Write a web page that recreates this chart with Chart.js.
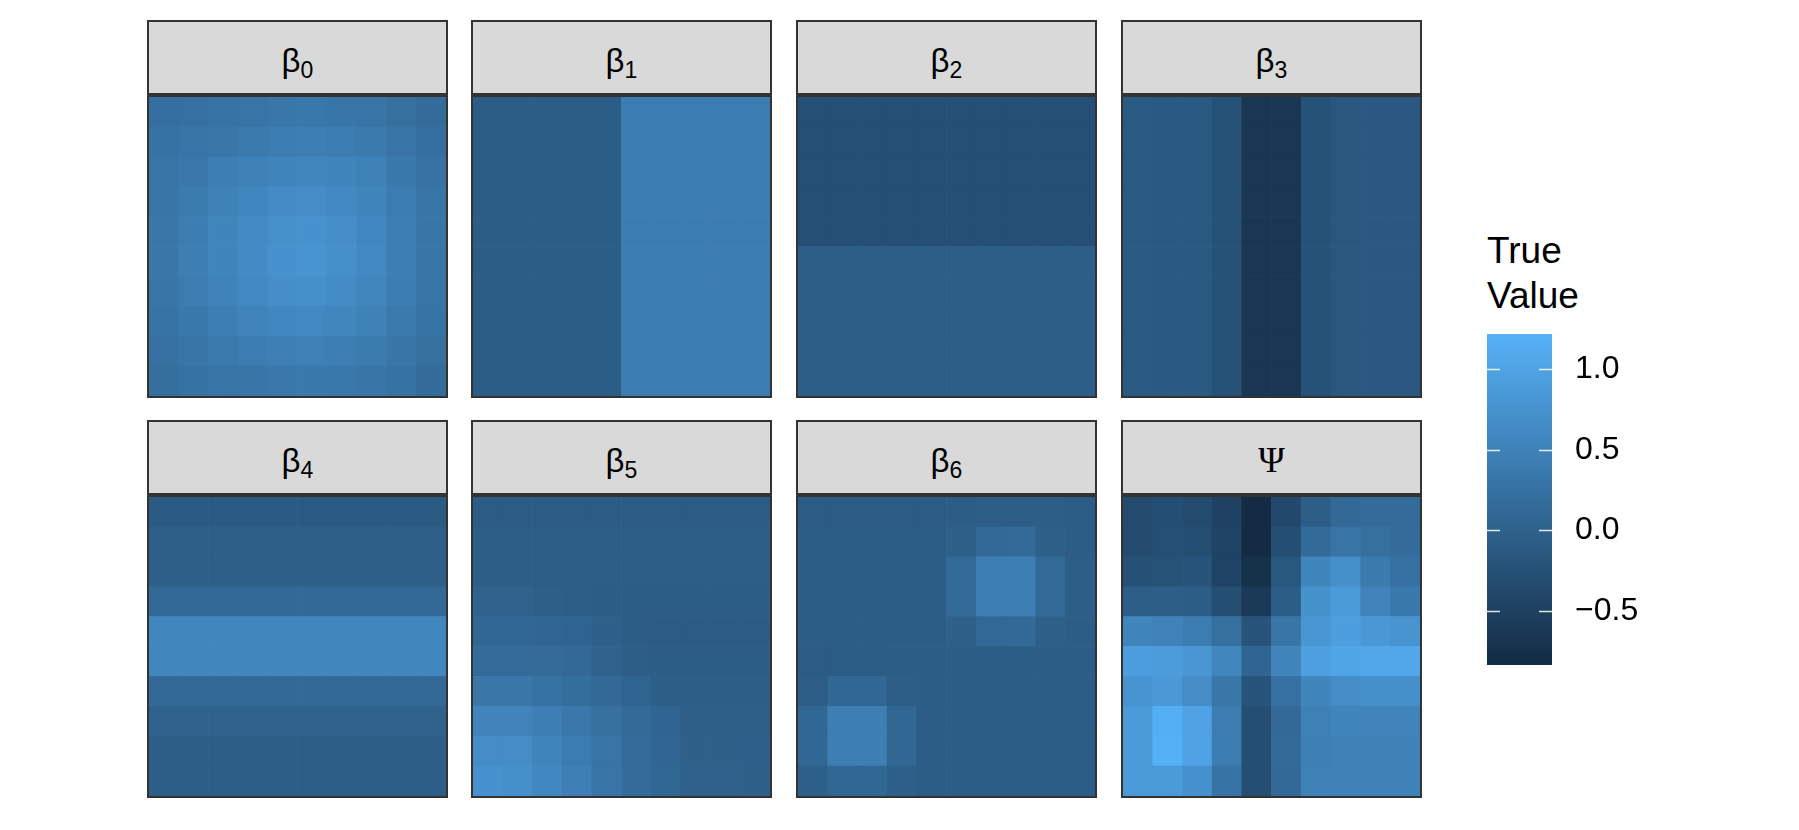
<!DOCTYPE html>
<html>
<head>
<meta charset="utf-8">
<script src="https://cdn.jsdelivr.net/npm/chart.js@4.4.1/dist/chart.umd.min.js"></script>
<style>
  html, body { margin: 0; padding: 0; background: #fff; }
  body { width: 1799px; height: 830px; position: relative; overflow: hidden;
         font-family: "Liberation Sans", Arial, sans-serif; color: #000; }
  .strip { position: absolute; box-sizing: border-box; width: 301px; height: 75px;
           background: #d9d9d9; border: 2px solid #333; text-align: center;
           font-size: 33px; line-height: 71px; }
  .strip .lab { display: inline-block; line-height: 33px; vertical-align: middle; }
  .strip sub { font-size: 23px; vertical-align: -6px; line-height: 0; }
  .strip.serif { font-family: "Liberation Serif", "DejaVu Serif", serif; font-size: 36px; }
  .panel { position: absolute; box-sizing: border-box; width: 301px; height: 303px;
           border: 2px solid #333; }
  .panel canvas { display: block; }
  #legendTitle { position: absolute; left: 1487px; top: 228px; font-size: 37px; line-height: 45px; }
  #barWrap { position: absolute; left: 1487px; top: 334px; }
</style>
</head>
<body>
<div id="legendTitle">True<br>Value</div>
<div id="barWrap"><canvas id="colorbar" width="170" height="331"></canvas></div>
<script>
// grid columns and colour scale limits
const cols = [1, 2, 3, 4, 5, 6, 7, 8, 9, 10];
const scaleMin = -0.835;
const scaleMax = 1.219;
const legendTicks = [-0.5, 0, 0.5, 1.0];

// each matrix: rows listed top to bottom, columns left to right
const beta0 = [
  [0.21, 0.23, 0.27, 0.30, 0.33, 0.34, 0.32, 0.29, 0.22, 0.16],
  [0.25, 0.29, 0.33, 0.37, 0.42, 0.44, 0.42, 0.37, 0.29, 0.21],
  [0.29, 0.35, 0.44, 0.50, 0.55, 0.56, 0.54, 0.48, 0.36, 0.26],
  [0.31, 0.40, 0.50, 0.58, 0.65, 0.66, 0.62, 0.55, 0.42, 0.30],
  [0.33, 0.43, 0.54, 0.63, 0.73, 0.75, 0.69, 0.59, 0.45, 0.32],
  [0.33, 0.44, 0.55, 0.64, 0.75, 0.77, 0.71, 0.60, 0.46, 0.32],
  [0.31, 0.41, 0.52, 0.60, 0.69, 0.70, 0.65, 0.56, 0.43, 0.30],
  [0.28, 0.36, 0.46, 0.53, 0.59, 0.60, 0.57, 0.50, 0.38, 0.27],
  [0.24, 0.31, 0.37, 0.42, 0.47, 0.48, 0.45, 0.40, 0.31, 0.22],
  [0.20, 0.25, 0.29, 0.32, 0.35, 0.36, 0.34, 0.31, 0.25, 0.18]
];
const beta1 = [
  [-0.07, -0.07, -0.07, -0.07, -0.07, 0.42, 0.42, 0.42, 0.42, 0.42],
  [-0.07, -0.07, -0.07, -0.07, -0.07, 0.42, 0.42, 0.42, 0.42, 0.42],
  [-0.07, -0.07, -0.07, -0.07, -0.07, 0.42, 0.42, 0.42, 0.42, 0.42],
  [-0.07, -0.07, -0.07, -0.07, -0.07, 0.42, 0.42, 0.42, 0.42, 0.42],
  [-0.07, -0.07, -0.07, -0.07, -0.07, 0.42, 0.42, 0.42, 0.42, 0.42],
  [-0.07, -0.07, -0.07, -0.07, -0.07, 0.42, 0.42, 0.42, 0.42, 0.42],
  [-0.07, -0.07, -0.07, -0.07, -0.07, 0.42, 0.42, 0.42, 0.42, 0.42],
  [-0.07, -0.07, -0.07, -0.07, -0.07, 0.42, 0.42, 0.42, 0.42, 0.42],
  [-0.07, -0.07, -0.07, -0.07, -0.07, 0.42, 0.42, 0.42, 0.42, 0.42],
  [-0.07, -0.07, -0.07, -0.07, -0.07, 0.42, 0.42, 0.42, 0.42, 0.42]
];
const beta2 = [
  [-0.28, -0.28, -0.28, -0.28, -0.28, -0.28, -0.28, -0.28, -0.28, -0.28],
  [-0.28, -0.28, -0.28, -0.28, -0.28, -0.28, -0.28, -0.28, -0.28, -0.28],
  [-0.28, -0.28, -0.28, -0.28, -0.28, -0.28, -0.28, -0.28, -0.28, -0.28],
  [-0.28, -0.28, -0.28, -0.28, -0.28, -0.28, -0.28, -0.28, -0.28, -0.28],
  [-0.28, -0.28, -0.28, -0.28, -0.28, -0.28, -0.28, -0.28, -0.28, -0.28],
  [-0.05, -0.05, -0.05, -0.05, -0.05, -0.05, -0.05, -0.05, -0.05, -0.05],
  [-0.05, -0.05, -0.05, -0.05, -0.05, -0.05, -0.05, -0.05, -0.05, -0.05],
  [-0.05, -0.05, -0.05, -0.05, -0.05, -0.05, -0.05, -0.05, -0.05, -0.05],
  [-0.05, -0.05, -0.05, -0.05, -0.05, -0.05, -0.05, -0.05, -0.05, -0.05],
  [-0.05, -0.05, -0.05, -0.05, -0.05, -0.05, -0.05, -0.05, -0.05, -0.05]
];
const beta3 = [
  [-0.11, -0.12, -0.12, -0.24, -0.65, -0.65, -0.24, -0.16, -0.14, -0.14],
  [-0.11, -0.12, -0.12, -0.24, -0.65, -0.65, -0.24, -0.16, -0.14, -0.14],
  [-0.11, -0.12, -0.12, -0.24, -0.65, -0.65, -0.24, -0.16, -0.14, -0.14],
  [-0.11, -0.12, -0.12, -0.24, -0.65, -0.65, -0.24, -0.16, -0.14, -0.14],
  [-0.11, -0.12, -0.12, -0.24, -0.65, -0.65, -0.24, -0.16, -0.14, -0.14],
  [-0.11, -0.12, -0.12, -0.24, -0.65, -0.65, -0.24, -0.16, -0.14, -0.14],
  [-0.11, -0.12, -0.12, -0.24, -0.65, -0.65, -0.24, -0.16, -0.14, -0.14],
  [-0.11, -0.12, -0.12, -0.24, -0.65, -0.65, -0.24, -0.16, -0.14, -0.14],
  [-0.11, -0.12, -0.12, -0.24, -0.65, -0.65, -0.24, -0.16, -0.14, -0.14],
  [-0.11, -0.12, -0.12, -0.24, -0.65, -0.65, -0.24, -0.16, -0.14, -0.14]
];
const beta4 = [
  [-0.10, -0.10, -0.10, -0.10, -0.10, -0.10, -0.10, -0.10, -0.10, -0.10],
  [-0.04, -0.04, -0.04, -0.04, -0.04, -0.04, -0.04, -0.04, -0.04, -0.04],
  [-0.04, -0.04, -0.04, -0.04, -0.04, -0.04, -0.04, -0.04, -0.04, -0.04],
  [0.12, 0.12, 0.12, 0.12, 0.12, 0.12, 0.12, 0.12, 0.12, 0.12],
  [0.56, 0.56, 0.56, 0.56, 0.56, 0.56, 0.56, 0.56, 0.56, 0.56],
  [0.56, 0.56, 0.56, 0.56, 0.56, 0.56, 0.56, 0.56, 0.56, 0.56],
  [0.12, 0.12, 0.12, 0.12, 0.12, 0.12, 0.12, 0.12, 0.12, 0.12],
  [0.01, 0.01, 0.01, 0.01, 0.01, 0.01, 0.01, 0.01, 0.01, 0.01],
  [-0.05, -0.05, -0.05, -0.05, -0.05, -0.05, -0.05, -0.05, -0.05, -0.05],
  [-0.05, -0.05, -0.05, -0.05, -0.05, -0.05, -0.05, -0.05, -0.05, -0.05]
];
const beta5 = [
  [-0.08, -0.08, -0.08, -0.08, -0.08, -0.08, -0.08, -0.08, -0.08, -0.08],
  [-0.05, -0.05, -0.05, -0.05, -0.05, -0.05, -0.05, -0.05, -0.05, -0.06],
  [-0.05, -0.05, -0.05, -0.05, -0.05, -0.05, -0.05, -0.05, -0.05, -0.06],
  [0.01, 0.01, -0.02, -0.06, -0.07, -0.07, -0.07, -0.07, -0.07, -0.07],
  [0.08, 0.08, 0.07, 0.04, -0.03, -0.07, -0.08, -0.08, -0.08, -0.08],
  [0.16, 0.16, 0.15, 0.12, 0.02, -0.05, -0.07, -0.07, -0.07, -0.07],
  [0.33, 0.33, 0.25, 0.19, 0.12, 0.04, -0.05, -0.05, -0.05, -0.05],
  [0.53, 0.53, 0.45, 0.35, 0.22, 0.13, 0.05, -0.04, -0.04, -0.04],
  [0.67, 0.66, 0.55, 0.42, 0.29, 0.16, 0.07, -0.02, -0.02, -0.03],
  [0.75, 0.71, 0.59, 0.47, 0.30, 0.18, 0.08, -0.01, -0.01, -0.02]
];
const beta6 = [
  [-0.08, -0.08, -0.08, -0.08, -0.08, -0.07, -0.05, -0.05, -0.06, -0.07],
  [-0.07, -0.07, -0.07, -0.07, -0.07, -0.02, 0.12, 0.13, -0.02, -0.07],
  [-0.07, -0.07, -0.07, -0.07, -0.07, 0.13, 0.44, 0.44, 0.13, -0.05],
  [-0.07, -0.07, -0.07, -0.07, -0.07, 0.13, 0.44, 0.44, 0.13, -0.05],
  [-0.07, -0.07, -0.07, -0.07, -0.07, -0.02, 0.10, 0.12, -0.02, -0.07],
  [-0.08, -0.09, -0.09, -0.07, -0.07, -0.07, -0.07, -0.07, -0.07, -0.07],
  [-0.06, 0.08, 0.08, -0.06, -0.07, -0.07, -0.07, -0.07, -0.07, -0.07],
  [0.08, 0.44, 0.44, 0.08, -0.07, -0.07, -0.07, -0.07, -0.07, -0.07],
  [0.08, 0.44, 0.44, 0.08, -0.07, -0.07, -0.07, -0.07, -0.07, -0.07],
  [-0.03, 0.08, 0.08, -0.03, -0.07, -0.07, -0.07, -0.07, -0.07, -0.07]
];
const psi = [
  [-0.34, -0.30, -0.35, -0.48, -0.83, -0.37, -0.05, 0.12, 0.16, 0.16],
  [-0.33, -0.28, -0.30, -0.46, -0.82, -0.30, 0.13, 0.29, 0.22, 0.17],
  [-0.26, -0.22, -0.20, -0.46, -0.75, -0.15, 0.55, 0.70, 0.37, 0.24],
  [-0.05, -0.05, -0.07, -0.30, -0.60, -0.07, 0.74, 0.87, 0.53, 0.36],
  [0.55, 0.52, 0.42, 0.22, -0.20, 0.31, 0.80, 0.93, 0.83, 0.77],
  [0.93, 0.90, 0.80, 0.57, 0.05, 0.55, 0.94, 1.04, 1.07, 1.07],
  [0.77, 0.84, 0.66, 0.33, -0.20, 0.24, 0.55, 0.66, 0.70, 0.70],
  [0.86, 1.17, 1.00, 0.41, -0.30, 0.12, 0.48, 0.55, 0.53, 0.53],
  [0.87, 1.20, 1.01, 0.42, -0.30, 0.14, 0.47, 0.50, 0.50, 0.50],
  [0.86, 0.87, 0.75, 0.28, -0.30, 0.12, 0.48, 0.50, 0.50, 0.50]
];

const facets = [
  { name: 'β', sub: '0', z: beta0 },
  { name: 'β', sub: '1', z: beta1 },
  { name: 'β', sub: '2', z: beta2 },
  { name: 'β', sub: '3', z: beta3 },
  { name: 'β', sub: '4', z: beta4 },
  { name: 'β', sub: '5', z: beta5 },
  { name: 'β', sub: '6', z: beta6 },
  { name: 'Ψ', sub: '', z: psi }
];

const lowRgb = [19, 43, 67];    // #132B43
const highRgb = [86, 177, 247]; // #56B1F7

function fillFor(v) {
  const t = Math.min(1, Math.max(0, (v - scaleMin) / (scaleMax - scaleMin)));
  const c = lowRgb.map((a, i) => Math.round(a + (highRgb[i] - a) * t));
  return 'rgb(' + c.join(',') + ')';
}

const facetLeft = [147, 471, 796, 1121];
const facetTop = [20, 420];

facets.forEach((f, i) => {
  const left = facetLeft[i % 4];
  const top = facetTop[Math.floor(i / 4)];

  const strip = document.createElement('div');
  strip.className = 'strip' + (f.sub ? '' : ' serif');
  strip.style.left = left + 'px';
  strip.style.top = top + 'px';
  strip.innerHTML = '<span class="lab">' + f.name + (f.sub ? '<sub>' + f.sub + '</sub>' : '') + '</span>';
  document.body.appendChild(strip);

  const panel = document.createElement('div');
  panel.className = 'panel';
  panel.style.left = left + 'px';
  panel.style.top = (top + 75) + 'px';
  const canvas = document.createElement('canvas');
  canvas.width = 297;
  canvas.height = 299;
  panel.appendChild(canvas);
  document.body.appendChild(panel);

  // one stacked dataset per grid row, bottom row first
  const datasets = [];
  for (let r = f.z.length - 1; r >= 0; r--) {
    datasets.push({
      data: cols.map(() => 1),
      backgroundColor: f.z[r].map(fillFor),
      borderWidth: 0,
      barPercentage: 1,
      categoryPercentage: 1
    });
  }

  new Chart(canvas.getContext('2d'), {
    type: 'bar',
    data: { labels: cols, datasets: datasets },
    options: {
      responsive: false,
      animation: false,
      layout: { padding: 0 },
      plugins: { legend: { display: false }, tooltip: { enabled: false } },
      scales: {
        x: { stacked: true, display: false },
        y: { stacked: true, display: false, min: 0, max: 10 }
      }
    }
  });
});

// colour bar legend
const whiteTicks = {
  id: 'whiteTicks',
  afterDatasetsDraw(chart) {
    const { ctx, chartArea } = chart;
    const ys = chart.scales.y;
    ctx.save();
    ctx.strokeStyle = 'rgba(255,255,255,0.85)';
    ctx.lineWidth = 1.3;
    legendTicks.forEach(v => {
      const y = Math.round(ys.getPixelForValue(v)) + 0.5;
      ctx.beginPath();
      ctx.moveTo(chartArea.left, y);
      ctx.lineTo(chartArea.left + 13, y);
      ctx.moveTo(chartArea.right - 13, y);
      ctx.lineTo(chartArea.right, y);
      ctx.stroke();
    });
    ctx.restore();
  }
};

new Chart(document.getElementById('colorbar').getContext('2d'), {
  type: 'bar',
  data: {
    labels: [''],
    datasets: [{
      data: [[scaleMin, scaleMax]],
      barPercentage: 1,
      categoryPercentage: 1,
      borderWidth: 0,
      backgroundColor(c) {
        const area = c.chart.chartArea;
        if (!area) return 'rgb(50,100,150)';
        const g = c.chart.ctx.createLinearGradient(0, area.bottom, 0, area.top);
        g.addColorStop(0, fillFor(scaleMin));
        g.addColorStop(1, fillFor(scaleMax));
        return g;
      }
    }]
  },
  options: {
    responsive: false,
    animation: false,
    layout: { padding: 0 },
    plugins: { legend: { display: false }, tooltip: { enabled: false } },
    scales: {
      x: { display: false },
      y: {
        position: 'right',
        min: scaleMin,
        max: scaleMax,
        grid: { display: false, drawTicks: false },
        border: { display: false },
        afterBuildTicks(s) { s.ticks = legendTicks.map(v => ({ value: v })); },
        afterFit(s) { s.width = 105; s.paddingTop = 0; s.paddingBottom = 0; },
        ticks: {
          padding: 23,
          color: '#000',
          font: { family: '"Liberation Sans", Arial, sans-serif', size: 32 },
          callback: v => (v < 0 ? '\u2212' : '') + Math.abs(v).toFixed(1)
        }
      }
    }
  },
  plugins: [whiteTicks]
});
</script>
</body>
</html>
